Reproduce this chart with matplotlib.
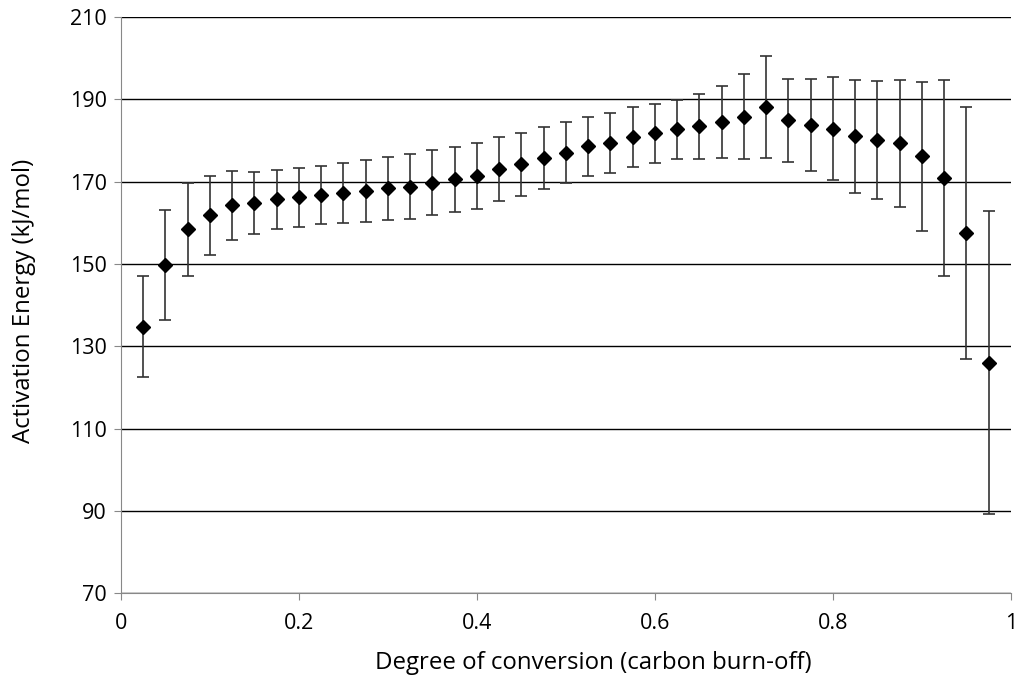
import matplotlib
matplotlib.use("Agg")
from matplotlib import pyplot as plt

# degree of conversion
conversion = [0.025, 0.05, 0.075, 0.1, 0.125, 0.15, 0.175, 0.2, 0.225, 0.25,
              0.275, 0.3, 0.325, 0.35, 0.375, 0.4, 0.425, 0.45, 0.475, 0.5,
              0.525, 0.55, 0.575, 0.6, 0.625, 0.65, 0.675, 0.7, 0.725, 0.75,
              0.775, 0.8, 0.825, 0.85, 0.875, 0.9, 0.925, 0.95, 0.975]

# activation energy (kJ/mol)
energy = [134.8, 149.7, 158.4, 161.8, 164.3, 164.8, 165.7, 166.2, 166.8, 167.3,
          167.7, 168.4, 168.8, 169.7, 170.6, 171.4, 173.1, 174.2, 175.7, 177.1,
          178.6, 179.4, 180.8, 181.8, 182.7, 183.5, 184.5, 185.8, 188.1, 184.9,
          183.8, 182.9, 181.0, 180.2, 179.3, 176.2, 170.9, 157.5, 126.0]

# error bar half-widths
err = [12.3, 13.4, 11.2, 9.5, 8.4, 7.5, 7.2, 7.1, 7.1, 7.3,
       7.6, 7.7, 7.9, 7.9, 7.9, 8.0, 7.8, 7.6, 7.5, 7.5,
       7.1, 7.2, 7.3, 7.2, 7.2, 7.9, 8.8, 10.3, 12.4, 10.1,
       11.1, 12.5, 13.8, 14.4, 15.4, 18.1, 23.8, 30.6, 36.9]

yticks = [70, 90, 110, 130, 150, 170, 190, 210]
xticks = [0, 0.2, 0.4, 0.6, 0.8, 1]
xticklabels = ["0", "0.2", "0.4", "0.6", "0.8", "1"]

plt.rcParams['font.family'] = ['Open Sans', 'DejaVu Sans']

fig = plt.figure(figsize=(10.16, 6.88), dpi=100)
ax = fig.add_axes([0.119, 0.138, 0.876, 0.837])

ax.errorbar(conversion, energy, yerr=err, fmt='D', color='black',
            markersize=7, ecolor='#333333', elinewidth=1.2, capsize=4,
            capthick=1.2, zorder=3)

ax.set_xlim(0, 1)
ax.set_ylim(70, 210)
ax.set_yticks(yticks)
ax.set_xticks(xticks)
ax.set_xticklabels(xticklabels)
ax.yaxis.grid(True, color='black', linewidth=1)
ax.set_axisbelow(True)

for s in ['top', 'right']:
    ax.spines[s].set_visible(False)
ax.spines['left'].set_color('#888888')
ax.spines['bottom'].set_color('#888888')
ax.tick_params(axis='both', labelsize=15.5, color='#888888', length=5)
ax.tick_params(axis='x', pad=9)
ax.tick_params(axis='y', pad=5)

ax.set_xlabel("Degree of conversion (carbon burn-off)", fontsize=17.3, va='center')
ax.set_ylabel("Activation Energy (kJ/mol)", fontsize=17.3, va='center')
ax.xaxis.set_label_coords(0.531, -0.122)
ax.yaxis.set_label_coords(-0.109, 0.508)

fig.savefig("out.png", dpi=100)
